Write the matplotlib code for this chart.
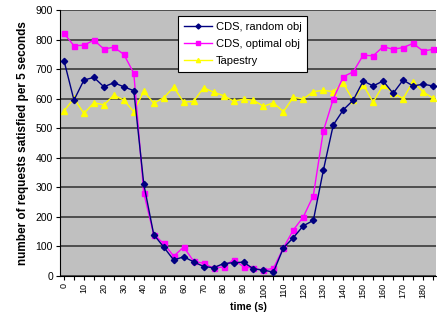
#!/usr/bin/env python3
"""Requests satisfied per 5 seconds: CDS vs Tapestry."""

import matplotlib
matplotlib.use("Agg")
import matplotlib.pyplot as plt
from matplotlib.ticker import MultipleLocator

time_s = list(range(0, 190, 5))

cds_random = [729, 595, 663, 672, 640, 654, 640, 627, 311, 140, 98, 54, 65, 48,
              32, 28, 42, 45, 47, 24, 20, 13, 95, 130, 170, 188, 357, 511, 562,
              595, 660, 643, 660, 618, 663, 643, 649, 643]
cds_optimal = [821, 779, 781, 798, 768, 774, 750, 686, 281, 140, 110, 67, 98, 50,
               43, 26, 31, 55, 32, 26, 20, 26, 95, 156, 200, 272, 490, 599, 674,
               691, 747, 745, 776, 767, 773, 787, 761, 767]
tapestry = [558, 601, 550, 586, 579, 612, 595, 556, 625, 585, 603, 639, 588, 591,
            637, 622, 610, 592, 598, 595, 574, 586, 556, 605, 599, 624, 628, 624,
            652, 594, 647, 588, 646, 620, 600, 658, 623, 602]

x_labels = list(range(0, 190, 10))

plt.rcParams["font.family"] = ["Liberation Sans", "DejaVu Sans"]

fig = plt.figure(figsize=(4.37, 3.17), dpi=100)
ax = fig.add_axes([60 / 437, 41 / 317, 376 / 437, 266 / 317])
ax.set_facecolor("#c0c0c0")

ax.plot(time_s, cds_random, color="#000080", marker="D", markersize=3.2,
        linewidth=1.0, label="CDS, random obj", zorder=3)
ax.plot(time_s, cds_optimal, color="#ff00ff", marker="s", markersize=3.6,
        linewidth=1.0, label="CDS, optimal obj", zorder=2)
ax.plot(time_s, tapestry, color="#ffff00", marker="^", markersize=3.8,
        linewidth=1.0, label="Tapestry", zorder=1)

ax.set_xlim(-2, 186.5)
ax.set_ylim(0, 900)
ax.yaxis.set_major_locator(MultipleLocator(100))
ax.set_xticks(x_labels)
ax.set_xticklabels([str(v) for v in x_labels], rotation=90, fontsize=6.5)
ax.xaxis.set_minor_locator(MultipleLocator(5))
ax.tick_params(axis="y", labelsize=7.5, length=3, width=0.8, pad=2)
ax.tick_params(axis="x", which="both", length=3, width=0.8, pad=2)
ax.grid(axis="y", color="#3a3a3a", linewidth=1.2, zorder=0)
ax.set_axisbelow(True)

for side in ("top", "right"):
    ax.spines[side].set_visible(False)
for side in ("left", "bottom"):
    ax.spines[side].set_linewidth(0.8)

ax.set_ylabel("number of requests satisfied per 5 seconds", fontsize=8.5,
              fontweight="bold", labelpad=5)
ax.set_xlabel("time (s)", fontsize=7.5, fontweight="bold", labelpad=3)

leg = ax.legend(loc="upper left", bbox_to_anchor=(118 / 376, 0.977),
                borderaxespad=0, fontsize=8, frameon=True, fancybox=False,
                edgecolor="black", borderpad=0.5, labelspacing=0.65,
                handlelength=2.6, handletextpad=0.3, markerscale=0.8)
leg.get_frame().set_linewidth(0.8)
leg.get_frame().set_facecolor("white")
leg.get_frame().set_alpha(1)

fig.savefig("out.png", dpi=100)
